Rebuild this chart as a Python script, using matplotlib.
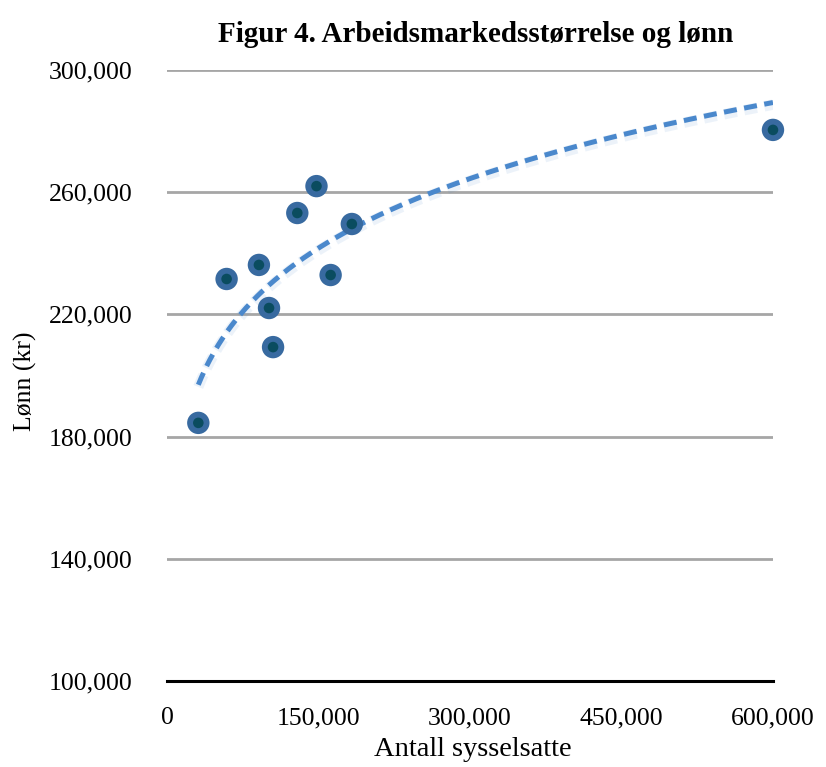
import numpy as np
import matplotlib
matplotlib.use("Agg")
import matplotlib.pyplot as plt
from matplotlib.ticker import FuncFormatter

# Data
sysselsatte = [31000, 59000, 91000, 101000, 105000, 129000, 148000, 162000, 183000, 600000]
lonn = [184500, 231600, 236200, 222100, 209300, 253200, 262000, 232900, 249600, 280400]
title = "Figur 4. Arbeidsmarkedsstørrelse og lønn"
xlabel = "Antall sysselsatte"
ylabel = "Lønn (kr)"
xticks = [0, 150000, 300000, 450000, 600000]
yticks = [100000, 140000, 180000, 220000, 260000, 300000]

plt.rcParams['font.family'] = ['Liberation Serif', 'DejaVu Serif']

fig = plt.figure(figsize=(8.26, 7.67), dpi=100)
ax = fig.add_axes([0.2022, 0.1121, 0.7336, 0.7966])

ax.set_xlim(0, 600000)
ax.set_ylim(100000, 300000)

for y in yticks[1:]:
    ax.axhline(y, color='#a6a6a6', lw=2.0, zorder=1)

# power trendline (least squares in log-log space)
xs = np.array(sysselsatte, dtype=float)
ys = np.array(lonn, dtype=float)
p, lc = np.polyfit(np.log(xs), np.log(ys), 1)
xt = np.linspace(xs.min(), xs.max(), 400)
yt = np.exp(lc) * xt ** p
dash = (0, (2.6, 1.5))
ax.plot(xt, yt - 700, color='#4a88cc', lw=7.5, alpha=0.10, ls=(0, (2.6*3.6/7.5, 1.5*3.6/7.5)), zorder=2)
ax.plot(xt, yt, color='#4a88cc', lw=3.6, ls=dash, zorder=3)

ax.scatter(xs, ys, s=260, color='#386aa0', zorder=4, edgecolors='none', clip_on=False)
ax.scatter(xs, ys, s=58, color='#0a4c5f', zorder=5, edgecolors='none', clip_on=False)

ax.set_xticks(xticks)
ax.set_yticks(yticks)
fmt = FuncFormatter(lambda v, pos: f"{int(v):,}")
ax.xaxis.set_major_formatter(fmt)
ax.yaxis.set_major_formatter(fmt)
ax.tick_params(axis='both', length=0, labelsize=18.5, colors='black')
ax.tick_params(axis='x', pad=19)
ax.tick_params(axis='y', pad=25)

for s in ['top', 'right', 'left']:
    ax.spines[s].set_visible(False)
ax.spines['bottom'].set_color('black')
ax.spines['bottom'].set_linewidth(2.2)
ax.spines['bottom'].set_zorder(6)

ax.set_xlabel(xlabel, fontsize=20.5)
ax.xaxis.set_label_coords(0.504, -0.091)
ax.set_ylabel(ylabel, fontsize=18.5)
ax.yaxis.set_label_coords(-0.214, 0.49)
fig.text(0.576, 1 - 41.5 / 767, title, fontsize=21, fontweight='bold', ha='center', va='baseline')

fig.savefig("out.png", dpi=100)
